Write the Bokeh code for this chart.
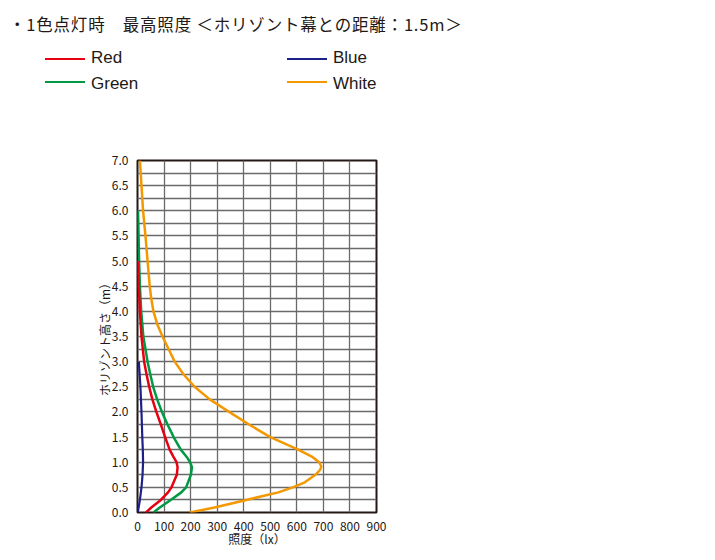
from bokeh.plotting import figure
from bokeh.layouts import column
from bokeh.models import (Range1d, FixedTicker, Div, CustomJSTickFormatter)
from bokeh.embed import file_html
from bokeh.resources import INLINE

# ---- data (height in m, illuminance in lx) ----
white_h = [0.0, 0.1, 0.25, 0.4, 0.5, 0.6, 0.75, 0.85, 0.92, 1.0, 1.1, 1.25, 1.5, 1.75, 2.0,
           2.25, 2.5, 2.75, 3.0, 3.25, 3.5, 3.75, 4.0, 4.25, 4.5, 5.0, 5.5, 6.0, 6.5, 7.0]
white_lx = [197, 290, 410, 530, 585, 630, 670, 688, 692, 684, 660, 605, 500, 420, 345,
            272, 215, 173, 140, 117, 94, 74, 60, 52, 46, 38, 30, 21, 15, 9]

red_h = [0.0, 0.1, 0.25, 0.4, 0.5, 0.75, 0.9, 1.0, 1.1, 1.25, 1.5, 1.75, 2.0, 2.25,
         2.5, 2.75, 3.0, 3.5, 4.0, 4.5, 5.0]
red_lx = [32, 52, 88, 115, 128, 148, 151, 147, 136, 121, 104, 88, 71, 56,
          44, 34, 25, 15, 9, 5, 2]

green_h = [0.0, 0.1, 0.25, 0.4, 0.5, 0.75, 0.9, 1.0, 1.1, 1.25, 1.5, 1.75, 2.0, 2.25,
           2.5, 2.75, 3.0, 3.5, 4.0, 4.5, 5.0, 5.5, 6.0]
green_lx = [60, 84, 125, 165, 183, 201, 205, 198, 186, 163, 136, 113, 92, 74,
            59, 48, 38, 22, 14, 9, 6, 4, 2]

blue_h = [0.0, 0.25, 0.5, 0.75, 1.0, 1.25, 1.5, 2.0, 2.5, 3.0]
blue_lx = [1, 9, 15, 19, 21, 20, 18, 15, 11, 5]

x_ticks = [0, 100, 200, 300, 400, 500, 600, 700, 800, 900]
y_ticks = [0.0, 0.5, 1.0, 1.5, 2.0, 2.5, 3.0, 3.5, 4.0, 4.5, 5.0, 5.5, 6.0, 6.5, 7.0]
y_grid = [i * 0.25 for i in range(29)]

title_text = "・1色点灯時　最高照度 ＜ホリゾント幕との距離：1.5m＞"
x_label = "照度（lx）"
y_label = "ホリゾント高さ（m）"
series = ["Red", "Green", "Blue", "White"]

FONT = "Noto Sans CJK JP"
LATIN = "Liberation Sans"
TXT = "#231815"
COL = {"Red": "#e60012", "Green": "#009944", "Blue": "#1d2088", "White": "#f39800"}

W = 712
HEADER_H = 120

# ---------------- header: title + legend (HTML) ----------------
leg_cols = {"Red": (45, 0), "Green": (45, 1), "Blue": (287, 0), "White": (287, 1)}
row_line_y = [58, 81]
row_text_top = [48, 74]

parts = [f'<div style="position:relative;width:{W}px;height:{HEADER_H}px;'
         f'color:{TXT};margin:0;padding:0;">',
         f'<div style="position:absolute;left:9px;top:12px;font-family:\'{FONT}\';'
         f'font-size:16.5px;letter-spacing:0.8px;line-height:24px;white-space:nowrap;">'
         f'{title_text}</div>']
for s in series:
    lx, row = leg_cols[s]
    parts.append(f'<div style="position:absolute;left:{lx}px;top:{row_line_y[row]}px;'
                 f'width:40px;height:0;border-top:2px solid {COL[s]};"></div>')
    parts.append(f'<div style="position:absolute;left:{lx + 46}px;top:{row_text_top[row]}px;'
                 f'font-family:\'{LATIN}\';font-size:17px;line-height:20px;'
                 f'white-space:nowrap;">{s}</div>')
parts.append('</div>')
header = Div(text="".join(parts), width=W, height=HEADER_H, margin=0)

# ---------------- main chart ----------------
p = figure(width=W, height=436, output_backend="svg", toolbar_location=None,
           x_range=Range1d(0, 900), y_range=Range1d(0, 7),
           min_border_left=137, min_border_right=336, min_border_top=40,
           min_border_bottom=44)
p.outline_line_color = "#231815"
p.outline_line_width = 2

p.xaxis.ticker = FixedTicker(ticks=x_ticks)
p.yaxis.ticker = FixedTicker(ticks=y_ticks)
p.yaxis.formatter = CustomJSTickFormatter(code="return tick.toFixed(1);")
for ax in (p.xaxis[0], p.yaxis[0]):
    ax.axis_line_color = None
    ax.major_tick_line_color = None
    ax.minor_tick_line_color = None
    ax.major_label_text_font = FONT
    ax.major_label_text_font_size = "12px"
    ax.major_label_text_color = TXT
    ax.axis_label_text_font = FONT
    ax.axis_label_text_font_size = "12px"
    ax.axis_label_text_font_style = "normal"
    ax.axis_label_text_color = TXT
p.xaxis.major_label_standoff = 3
p.yaxis.major_label_standoff = 3
p.xaxis.axis_label = x_label
p.yaxis.axis_label = y_label
p.xaxis.axis_label_standoff = -4
p.yaxis.axis_label_standoff = -4

p.xgrid.ticker = FixedTicker(ticks=x_ticks)
p.ygrid.ticker = FixedTicker(ticks=y_grid)
for g in (p.xgrid[0], p.ygrid[0]):
    g.grid_line_color = "#6a6a6a"
    g.grid_line_width = 1.3

p.line(white_lx, white_h, line_color=COL["White"], line_width=2.5, line_join="round")
p.line(green_lx, green_h, line_color=COL["Green"], line_width=2.5, line_join="round")
p.line(red_lx, red_h, line_color=COL["Red"], line_width=2.5, line_join="round")
p.line(blue_lx, blue_h, line_color=COL["Blue"], line_width=2.2, line_join="round")

layout = column(header, p, spacing=0)
open("out.html", "w").write(file_html(layout, INLINE))
